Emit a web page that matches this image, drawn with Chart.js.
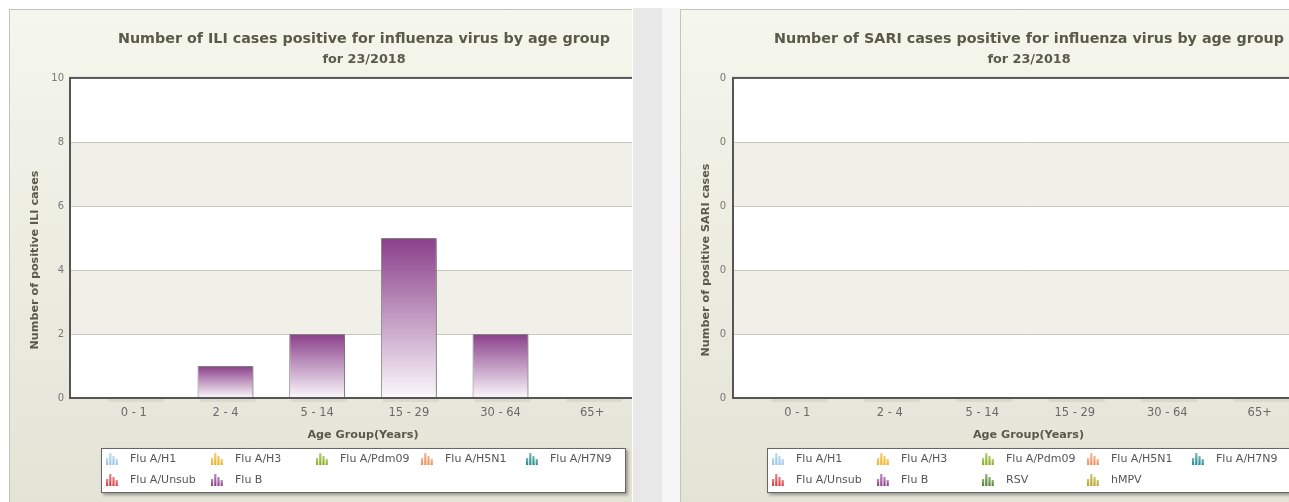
<!DOCTYPE html>
<html>
<head>
<meta charset="utf-8">
<title>ILI / SARI by age group</title>
<script src="https://cdn.jsdelivr.net/npm/chart.js@4.4.1/dist/chart.umd.min.js"></script>
<style>
  html, body { margin:0; padding:0; background:#fff; width:1289px; height:502px; overflow:hidden;
               font-family:"DejaVu Sans", Verdana, sans-serif; }
  .panel { position:absolute; top:9px; height:492px; overflow:hidden;
           border-left:1px solid #c4c4bc; border-top:1px solid #c4c4bc;
           background:linear-gradient(#f5f6ec, #e3e3d6); }
  #p1 { left:9px; width:622px; }
  #p2 { left:680px; width:609px; }
  .panel > canvas { position:absolute; left:0; top:0; }
  .legend { position:absolute; top:438px; height:43px; background:#fff;
            border:1px solid #666; box-shadow:2px 2px 3px rgba(0,0,0,.35); }
  #l1 { left:91px; width:523px; }
  #l2 { left:86px; width:540px; }
  .legend .item { position:absolute; height:14px; font-size:11px; line-height:14px; color:#555; white-space:nowrap; }
  .legend .item canvas { position:absolute; left:0; top:0; }
  .legend .item span { position:absolute; left:25px; top:0; }
  #strip  { position:absolute; left:633px; top:8px; width:29px; height:494px; background:#e8e8e8; }
  #strip2 { position:absolute; left:662px; top:8px; width:18px; height:494px; background:#f6f6f6; }
</style>
</head>
<body>
<div class="panel" id="p1"><canvas id="c1" width="708" height="492"></canvas><div class="legend" id="l1"></div></div>
<div id="strip"></div><div id="strip2"></div>
<div class="panel" id="p2"><canvas id="c2" width="696" height="492"></canvas><div class="legend" id="l2"></div></div>

<script>
// Altersgruppen (x-Achse)
const ageGroups = ["0 - 1", "2 - 4", "5 - 14", "15 - 29", "30 - 64", "65+"];

// ILI: positive Fälle je Altersgruppe
const iliFluAH1   = [0, 0, 0, 0, 0, 0];
const iliFluAH3   = [0, 0, 0, 0, 0, 0];
const iliFluAPdm  = [0, 0, 0, 0, 0, 0];
const iliFluAH5N1 = [0, 0, 0, 0, 0, 0];
const iliFluAH7N9 = [0, 0, 0, 0, 0, 0];
const iliFluAUns  = [0, 0, 0, 0, 0, 0];
const iliFluB     = [0, 1, 2, 5, 2, 0];
const iliTicks    = ["0", "2", "4", "6", "8", "10"];

// SARI: positive Fälle je Altersgruppe (alles 0)
const sariFluAH1   = [0, 0, 0, 0, 0, 0];
const sariFluAH3   = [0, 0, 0, 0, 0, 0];
const sariFluAPdm  = [0, 0, 0, 0, 0, 0];
const sariFluAH5N1 = [0, 0, 0, 0, 0, 0];
const sariFluAH7N9 = [0, 0, 0, 0, 0, 0];
const sariFluAUns  = [0, 0, 0, 0, 0, 0];
const sariFluB     = [0, 0, 0, 0, 0, 0];
const sariRSV      = [0, 0, 0, 0, 0, 0];
const sariHMPV     = [0, 0, 0, 0, 0, 0];
const sariTicks    = ["0", "0", "0", "0", "0", "0"];

// Serien und Farben
const seriesNames  = ["Flu A/H1", "Flu A/H3", "Flu A/Pdm09", "Flu A/H5N1", "Flu A/H7N9",
                      "Flu A/Unsub", "Flu B", "RSV", "hMPV"];
const seriesColors = ["#94c3e8", "#eeae1c", "#86ad1a", "#f08a56", "#1f8a8a",
                      "#d6383e", "#8a3f8a", "#4d7f2e", "#b3a21d"];

const iliValues  = [iliFluAH1, iliFluAH3, iliFluAPdm, iliFluAH5N1, iliFluAH7N9, iliFluAUns, iliFluB];
const sariValues = [sariFluAH1, sariFluAH3, sariFluAPdm, sariFluAH5N1, sariFluAH7N9, sariFluAUns,
                    sariFluB, sariRSV, sariHMPV];

Chart.defaults.font.family = "'DejaVu Sans', Verdana, sans-serif";
const textColor = "#5a5a4a";
const PAD = 18;   // Abstand Plotrahmen -> erste/letzte Kategorie

// Verlauf von dunkel (oben) nach fast weiß (unten) pro Balken
function barFill(c) {
  const color = c.dataset.baseColor;
  const chart = c.chart, y = chart.scales.y;
  if (c.type !== "data" || !y || !chart.chartArea) return color;
  let base = 0;
  for (let d = 0; d < c.datasetIndex; d++) base += chart.data.datasets[d].data[c.dataIndex];
  const yTop = y.getPixelForValue(base + c.raw), yBase = y.getPixelForValue(base);
  if (yBase - yTop < 1) return color;
  const g = chart.ctx.createLinearGradient(0, yTop, 0, yBase);
  g.addColorStop(0, color);
  g.addColorStop(1, "#fbf8fb");
  return g;
}

// Plot-Hintergrund: Bänder, Gitter, Rahmen, Schatten
const plotFrame = {
  id: "plotFrame",
  beforeDatasetsDraw(chart) {
    const { ctx, chartArea: a, scales: { y } } = chart;
    const l = a.left - PAD, r = a.right + PAD;
    ctx.save();
    ctx.fillStyle = "#fff";
    ctx.fillRect(l, a.top, r - l, a.bottom - a.top);
    const t = y.ticks;
    for (let i = 0; i < t.length - 1; i++) {
      const y0 = y.getPixelForValue(t[i].value), y1 = y.getPixelForValue(t[i + 1].value);
      if ((t.length - 2 - i) % 2 === 1) {
        ctx.fillStyle = "#f0f0e8";
        ctx.fillRect(l, y1, r - l, y0 - y1);
      }
    }
    ctx.strokeStyle = "#c9c9c1";
    ctx.lineWidth = 1;
    for (let i = 1; i < t.length - 1; i++) {
      const yy = Math.round(y.getPixelForValue(t[i].value)) + 0.5;
      ctx.beginPath(); ctx.moveTo(l, yy); ctx.lineTo(r, yy); ctx.stroke();
    }
    ctx.restore();
    // Schatten für Balken
    ctx.save();
    ctx.shadowColor = "rgba(0,0,0,0.28)";
    ctx.shadowOffsetX = 2;
    ctx.shadowOffsetY = 1;
    ctx.shadowBlur = 3;
  },
  afterDatasetsDraw(chart) {
    const { ctx, chartArea: a } = chart;
    ctx.restore();
    const l = a.left - PAD, r = a.right + PAD;
    // leichter Schatten unter der Achse je Kategorie
    const meta = chart.getDatasetMeta(chart.data.datasets.length - 1);
    ctx.save();
    ctx.fillStyle = "rgba(0,0,0,0.06)";
    meta.data.forEach(el => {
      ctx.fillRect(el.x - el.width / 2 + 2, a.bottom + 1, el.width, 3);
    });
    ctx.restore();
    ctx.save();
    ctx.strokeStyle = "#555";
    ctx.lineWidth = 2;
    ctx.strokeRect(l, a.top, r - l, a.bottom - a.top);
    ctx.restore();
  }
};

// Titel der y-Achse (mittig zur gesamten Diagrammhöhe, nicht zur Plotfläche)
const yTitle = {
  id: "yTitle",
  afterDraw(chart, args, opts) {
    const ctx = chart.ctx;
    ctx.save();
    ctx.translate(opts.x, opts.y);
    ctx.rotate(-Math.PI / 2);
    ctx.font = "bold 11.2px 'DejaVu Sans', Verdana, sans-serif";
    ctx.fillStyle = textColor;
    ctx.textAlign = "center";
    ctx.textBaseline = "middle";
    ctx.fillText(opts.text, 0, 0);
    ctx.restore();
  }
};

function makeChart(canvasId, title, yText, values, ticks, yMax, yStep, yWidth, yPad, rightWidth) {
  const datasets = values.map((v, i) => ({
    label: seriesNames[i],
    data: v,
    baseColor: seriesColors[i],
    backgroundColor: barFill,
    borderColor: "#858585",
    borderWidth: 1,
    categoryPercentage: 1,
    barPercentage: 0.61
  }));
  return new Chart(document.getElementById(canvasId), {
    type: "bar",
    data: { labels: ageGroups, datasets: datasets },
    plugins: [plotFrame, yTitle],
    options: {
      responsive: false,
      animation: false,
      layout: { padding: 0 },
      plugins: {
        legend: { display: false },
        tooltip: { enabled: false },
        title: { display: true, text: title, color: textColor,
                 font: { size: 14.3, weight: "bold" }, padding: { top: 20.4, bottom: 4 } },
        subtitle: { display: true, text: "for 23/2018", color: textColor,
                    font: { size: 12.8, weight: "bold" }, padding: { top: 0, bottom: 11 } },
        yTitle: { text: yText, x: 25, y: 250 }
      },
      scales: {
        x: {
          stacked: true,
          grid: { display: false, drawTicks: false },
          border: { display: false },
          ticks: { color: "#6a6a6a", font: { size: 11.5 }, padding: 8 },
          title: { display: true, text: "Age Group(Years)", color: textColor,
                   font: { size: 11.2, weight: "bold" }, padding: { top: 0, bottom: 60 } },
          afterFit: s => { s.height = 104; }
        },
        y: {
          stacked: true,
          min: 0, max: yMax,
          grid: { display: false, drawTicks: false },
          border: { display: false },
          ticks: { stepSize: yStep, color: "#777", font: { size: 10 }, padding: yPad,
                   callback: (v, i) => ticks[i] },
          afterFit: s => { s.width = yWidth; }
        },
        yR: {
          position: "right",
          grid: { display: false, drawTicks: false },
          border: { display: false },
          ticks: { display: false },
          afterFit: s => { s.width = rightWidth; }
        }
      }
    }
  });
}

// Legende mit kleinen Balken-Symbolen
function drawIcon(cv, color) {
  const c = cv.getContext("2d");
  const heights = [7, 12, 9, 6];
  heights.forEach((h, k) => {
    const x = 1 + k * 3.2, top = 13 - h;
    const g = c.createLinearGradient(0, top, 0, 13);
    g.addColorStop(0, color + "99");
    g.addColorStop(1, color);
    c.fillStyle = g;
    c.fillRect(x, top, 2.2, h);
  });
}

function buildLegend(id, count) {
  const box = document.getElementById(id);
  for (let i = 0; i < count; i++) {
    const col = i % 5, row = Math.floor(i / 5);
    const item = document.createElement("div");
    item.className = "item";
    item.style.left = (3 + col * 105) + "px";
    item.style.top = (3 + row * 21) + "px";
    const cv = document.createElement("canvas");
    cv.width = 14; cv.height = 14;
    drawIcon(cv, seriesColors[i]);
    const sp = document.createElement("span");
    sp.textContent = seriesNames[i];
    item.appendChild(cv);
    item.appendChild(sp);
    box.appendChild(item);
  }
}

makeChart("c1", "Number of ILI cases positive for influenza virus by age group",
          "Number of positive ILI cases", iliValues, iliTicks, 10, 2, 78, 24, 708 - 628);
makeChart("c2", "Number of SARI cases positive for influenza virus by age group",
          "Number of positive SARI cases", sariValues, sariTicks, 5, 1, 70, 25, 696 - 625);
buildLegend("l1", 7);
buildLegend("l2", 9);
</script>
</body>
</html>
